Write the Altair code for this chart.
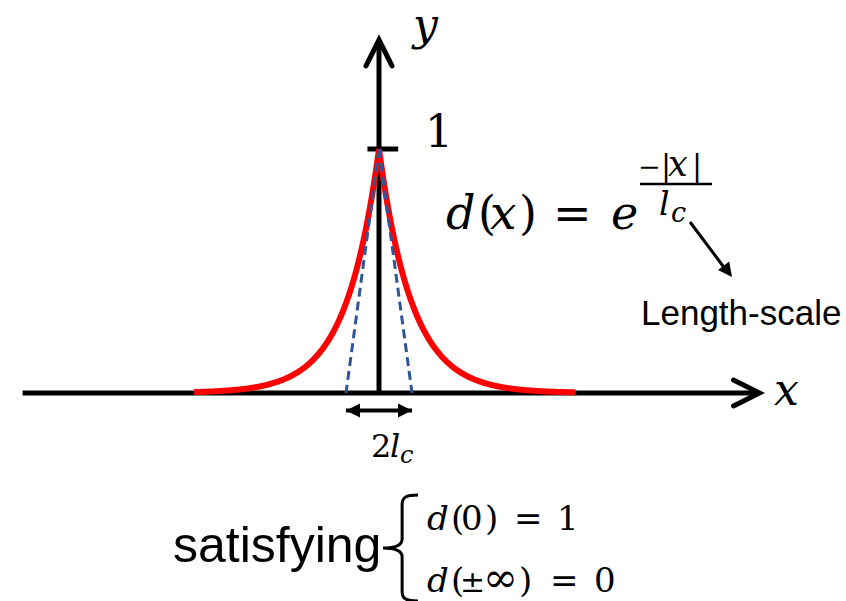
import numpy as np
import pandas as pd
import altair as alt

W, H = 846, 601

# Length scale and the decay curve d(x) = exp(-|x| / lc)
LC = 1.0
curve_x = np.linspace(-5.6, 5.95, 461)
curve_d = np.exp(-np.abs(curve_x) / LC)

# Tangent lines from the peak (0, 1) down to x = -lc and x = +lc
tangent_seg = ["left", "left", "right", "right"]
tangent_x = [0.0, -LC, 0.0, LC]
tangent_y = [1.0, 0.0, 1.0, 0.0]

# Axis arrows and the tick at d = 1 (data units)
axis_seg = ["x", "x", "y", "y", "tick", "tick"]
axis_x = [-10.8, 11.5, 0.0, 0.0, -0.35, 0.58]
axis_y = [0.0, 0.0, 0.0, 1.44, 1.0, 1.0]
head_x = [11.53, 0.0]
head_y = [0.0, 1.447]
head_angle = [0, 270]

# Width marker spanning 2*lc below the x axis
DIM_Y = -0.072
dim_x = [-LC, LC]
dim_angle = [180, 0]

# Text pieces: (text, x px, baseline px, size, family, italic)
SERIF = "DejaVu Serif"
SANS = "Liberation Sans"
texts = [
    ("y", 413, 40, 44, SERIF, True),
    ("1", 425, 147, 44, SERIF, False),
    ("x", 774, 405, 44, SERIF, True),
    # d(x) = e^{-|x|/l_c}
    ("d", 446, 229, 46, SERIF, True),
    ("(", 478, 229, 46, SERIF, False),
    ("x", 490, 229, 47, SERIF, True),
    (")", 519, 229, 46, SERIF, False),
    ("=", 553, 229, 46, SERIF, False),
    ("e", 611, 229, 46, SERIF, True),
    ("\u2212", 638, 176, 27, SERIF, False),
    ("|", 661, 176, 30, SERIF, False),
    ("x", 668, 176, 35, SERIF, True),
    ("|", 692, 176, 30, SERIF, False),
    ("l", 659, 215, 33, SERIF, True),
    ("c", 671, 222, 27, SERIF, True),
    ("Length-scale", 641, 325, 35, SANS, False),
    # 2 l_c
    ("2", 371, 457, 32, SERIF, False),
    ("l", 390, 457, 32, SERIF, True),
    ("c", 400, 463, 24, SERIF, True),
    ("satisfying", 173, 562, 50, SANS, False),
    # d(0) = 1
    ("d", 427, 530, 34, SERIF, True),
    ("(", 451, 530, 34, SERIF, False),
    ("0", 461, 530, 34, SERIF, False),
    (")", 485, 530, 34, SERIF, False),
    ("=", 514, 530, 34, SERIF, False),
    ("1", 557, 530, 34, SERIF, False),
    # d(±∞) = 0
    ("d", 427, 592, 34, SERIF, True),
    ("(", 451, 592, 34, SERIF, False),
    ("\u00b1", 460, 592, 30, SERIF, False),
    ("\u221e", 483, 592, 42, SERIF, False),
    (")", 519, 592, 34, SERIF, False),
    ("=", 550, 592, 34, SERIF, False),
    ("0", 594, 592, 34, SERIF, False),
]

# 33 px per unit along x, 244 px per unit along y, origin at pixel (379, 393)
X_DOMAIN = [-379 / 33, (W - 379) / 33]
Y_DOMAIN = [-(H - 393) / 244, 393 / 244]
xs = alt.Scale(domain=X_DOMAIN, nice=False, zero=False)
ys = alt.Scale(domain=Y_DOMAIN, nice=False, zero=False)


def ex(f):
    return alt.X(f, type="quantitative", scale=xs, axis=None)


def ey(f):
    return alt.Y(f, type="quantitative", scale=ys, axis=None)


# Glyph shapes for arrowheads and the brace (unit box, tip at origin)
CHEVRON = "M-2,-1L0,0L-2,1"
TRIANGLE = "M0,0L-2,-1L-2,1Z"
BRACE = ("M0.34,-1C0.1,-1 0.04,-0.95 0.04,-0.82L0.04,-0.17"
         "C0.04,-0.05 -0.1,0 -0.32,0"
         "C-0.1,0 0.04,0.05 0.04,0.17L0.04,0.82C0.04,0.95 0.1,1 0.34,1")

axis_df = pd.DataFrame({"seg": axis_seg, "x": axis_x, "y": axis_y,
                        "o": list(range(len(axis_x)))})
axes = alt.Chart(axis_df).mark_line(color="black", strokeWidth=5).encode(
    x=ex("x"), y=ey("y"), detail="seg:N", order="o:Q")

heads_df = pd.DataFrame({"x": head_x, "y": head_y, "a": head_angle})
heads = alt.Chart(heads_df).mark_point(
    shape=CHEVRON, size=676, filled=False, color="black", strokeWidth=5,
    opacity=1, strokeJoin="miter", strokeCap="round").encode(
    x=ex("x"), y=ey("y"), angle=alt.Angle("a:Q", scale=None))

curve_df = pd.DataFrame({"x": curve_x, "d": curve_d})
curve = alt.Chart(curve_df).mark_line(color="#FF0000", strokeWidth=6).encode(
    x=ex("x"), y=ey("d"))

tan_df = pd.DataFrame({"seg": tangent_seg, "x": tangent_x, "y": tangent_y,
                       "o": [0, 1, 0, 1]})
tangents = alt.Chart(tan_df).mark_line(
    color="#2F5597", strokeWidth=3, strokeDash=[9, 5]).encode(
    x=ex("x"), y=ey("y"), detail="seg:N", order="o:Q")

dim_df = pd.DataFrame({"x": dim_x, "y": [DIM_Y] * 2, "a": dim_angle})
dim_line = alt.Chart(dim_df).mark_line(color="black", strokeWidth=4).encode(
    x=ex("x"), y=ey("y"))
dim_heads = alt.Chart(dim_df).mark_point(
    shape=TRIANGLE, size=196, filled=True, color="black", opacity=1,
    strokeWidth=0).encode(x=ex("x"), y=ey("y"),
                          angle=alt.Angle("a:Q", scale=None))

one = pd.DataFrame({"k": [0]})
pointer = alt.Chart(one).mark_rule(color="black", strokeWidth=3).encode(
    x=alt.value(690), y=alt.value(222), x2=alt.value(726), y2=alt.value(270))
pointer_head = alt.Chart(one).mark_point(
    shape=TRIANGLE, size=196, filled=True, color="black", opacity=1,
    strokeWidth=0, angle=53.3).encode(x=alt.value(732), y=alt.value(277))

brace = alt.Chart(one).mark_point(
    shape=BRACE, size=11236, filled=False, color="black", strokeWidth=3,
    opacity=1).encode(x=alt.value(400), y=alt.value(548))

text_layers = []
for t, px, py, sz, fam, it in texts:
    props = dict(font=fam, fontSize=sz, align="left", baseline="alphabetic",
                 color="black")
    if it:
        props["fontStyle"] = "italic"
    text_layers.append(
        alt.Chart(one).mark_text(**props).encode(
            x=alt.value(px), y=alt.value(py), text=alt.value(t)))

fraction_bar = alt.Chart(one).mark_rule(color="black", strokeWidth=2.5).encode(
    x=alt.value(640), x2=alt.value(712), y=alt.value(184))

chart = alt.layer(
    axes, heads, curve, tangents, dim_line, dim_heads, pointer, pointer_head,
    brace, fraction_bar, *text_layers
).properties(
    width=W, height=H, autosize=alt.AutoSizeParams(type="none"), padding=0,
    background="white"
).configure_view(stroke=None)

chart.save("out.html", embed_options={"renderer": "svg", "actions": False})
